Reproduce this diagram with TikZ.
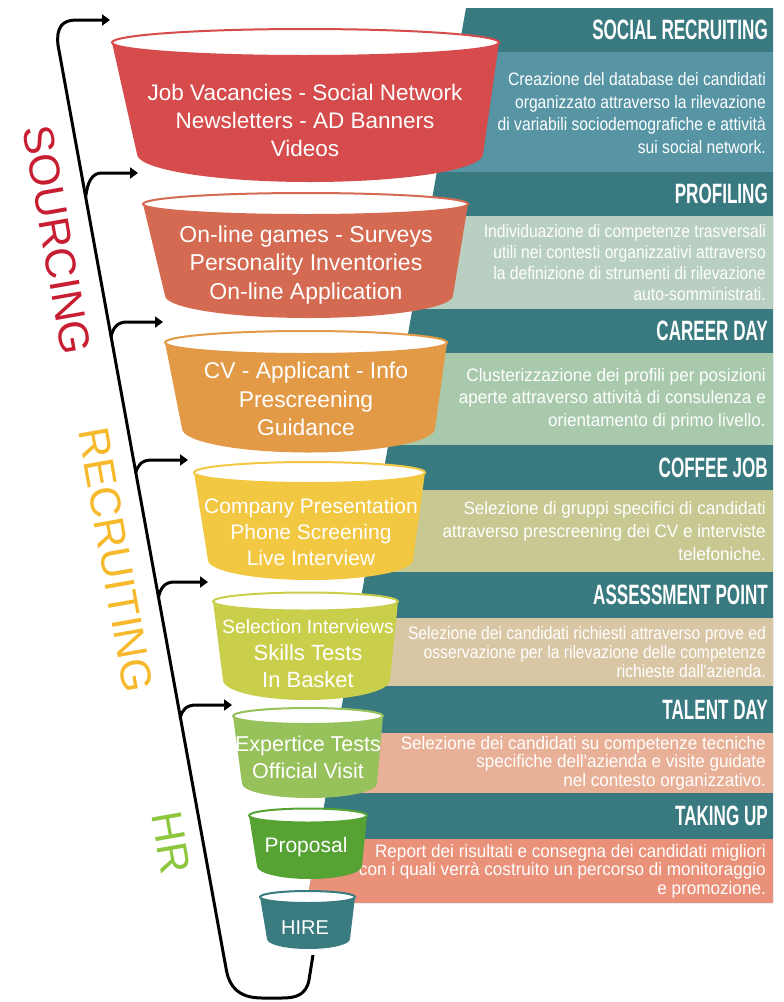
\documentclass[tikz,border=0pt]{standalone}
\usepackage{fontspec}
\setmainfont{Liberation Sans}
\newfontfamily\headfont[FakeStretch=0.61]{Liberation Sans}
\newfontfamily\descfont[FakeStretch=0.87]{Liberation Sans}
\newfontfamily\descwide[FakeStretch=0.95]{Liberation Sans}
\usepackage{tikz}
\usetikzlibrary{arrows.meta}

\definecolor{panelteal}{HTML}{387A80}
\definecolor{dsocial}{HTML}{5795A5}
\definecolor{dprofiling}{HTML}{B9CFC1}
\definecolor{dcareer}{HTML}{A8C9AB}
\definecolor{dcoffee}{HTML}{C8C893}
\definecolor{dassess}{HTML}{D9C6A5}
\definecolor{dtalent}{HTML}{E8B096}
\definecolor{dtaking}{HTML}{EA917A}
\definecolor{fjob}{HTML}{D64B4B}
\definecolor{fonline}{HTML}{D46A52}
\definecolor{fcv}{HTML}{E39A47}
\definecolor{fcompany}{HTML}{F2C742}
\definecolor{fselection}{HTML}{C9CF4A}
\definecolor{fexpertice}{HTML}{97C15A}
\definecolor{fproposal}{HTML}{56A334}
\definecolor{fhire}{HTML}{3A7B80}
\definecolor{csourcing}{HTML}{C81E32}
\definecolor{crecruit}{HTML}{F6B92C}
\definecolor{chr}{HTML}{8DC63F}

\tikzset{
  funneltext/.style={text=white, align=center, inner sep=0pt},
  header/.style={text=white, anchor=east, inner sep=0pt, font=\headfont\bfseries\fontsize{28}{30}\selectfont},
  desc/.style={text=white, anchor=east, align=right, inner sep=0pt, font=\descfont\fontsize{18}{22.5}\selectfont},
  descw/.style={desc, font=\descwide\fontsize{18}{18.5}\selectfont},
  stage/.style={rotate=-80, inner sep=0pt, font=\fontsize{43}{45}\selectfont},
  bracket/.style={line width=3pt, black},
  tip/.style={-{Triangle[length=8pt,width=11pt]}}
}

\begin{document}
\begin{tikzpicture}[x=1pt,y=1pt]
  \useasboundingbox (0,0) rectangle (784,-1002);

  % right panel
  \fill[panelteal] (466,-8) -- (773,-8) -- (773,-903) -- (306.7,-903) -- cycle;
  \begin{scope}
    \clip (466,-8) -- (773,-8) -- (773,-903) -- (306.7,-903) -- cycle;
    \foreach \ya/\yb/\col in {52/172/dsocial, 216/309/dprofiling, 353/445/dcareer,
      490/572/dcoffee, 618/686/dassess, 733/793/dtalent, 839/903/dtaking}
      \fill[\col] (300,-\ya) rectangle (773,-\yb);
  \end{scope}

  \node[header] (hsocial) at (768,-30) {SOCIAL RECRUITING};
  \node[header] (hprofiling) at (768,-194) {PROFILING};
  \node[header] (hcareer) at (768,-331) {CAREER DAY};
  \node[header] (hcoffee) at (768,-467.5) {COFFEE JOB};
  \node[header] (hassess) at (768,-595) {ASSESSMENT POINT};
  \node[header] (htalent) at (768,-709.5) {TALENT DAY};
  \node[header] (htaking) at (768,-816) {TAKING UP};

  \node[desc] (dsocial) at (766,-113) {Creazione del database dei candidati\\organizzato attraverso la rilevazione\\di variabili sociodemografiche e attività\\sui social network.};
  \node[desc, font=\descfont\fontsize{18}{21}\selectfont] (dprofiling) at (766,-262.5) {Individuazione di competenze trasversali\\utili nei contesti organizzativi attraverso\\la definizione di strumenti di rilevazione\\auto-somministrati.};
  \node[desc, font=\descwide\fontsize{18}{22.5}\selectfont] (dcareer) at (766,-399) {Clusterizzazione dei profili per posizioni\\aperte attraverso attività di consulenza e\\orientamento di primo livello.};
  \node[desc, font=\descwide\fontsize{18}{23}\selectfont] (dcoffee) at (766,-531) {Selezione di gruppi specifici di candidati\\attraverso prescreening dei CV e interviste\\telefoniche.};
  \node[desc, font=\descfont\fontsize{18}{19}\selectfont] (dassess) at (766,-652) {Selezione dei candidati richiesti attraverso prove ed\\osservazione per la rilevazione delle competenze\\richieste dall'azienda.};
  \node[descw] (dtalent) at (766,-763) {Selezione dei candidati su competenze tecniche\\specifiche dell'azienda e visite guidate\\nel contesto organizzativo.};
  \node[descw] (dtaking) at (766,-871) {Report dei risultati e consegna dei candidati migliori\\con i quali verrà costruito un percorso di monitoraggio\\e promozione.};

  % funnels
  \foreach \col/\cx/\ty/\trx/\ry/\bcx/\by/\brx/\dip in {
    fjob/305.5/42.5/193.5/13.5/310/154/173/28,
    fonline/305.5/204/162.5/11/309/295.5/144/22.5,
    fcv/306/342.5/141/11.5/308.5/428.5/126.5/24,
    fcompany/309.5/472.5/115.5/10.5/310.5/560/102.5/20,
    fselection/305.5/601.5/92.5/9/306.5/680/83.5/20,
    fexpertice/308/716/75/8/309.5/783.5/67.5/14.5,
    fproposal/308/815.5/59/7/309.5/866/52.5/13,
    fhire/307.5/897/47.5/6/308.5/939/41.5/10}
  {
    \fill[\col] (\cx-\trx,-\ty) -- (\bcx-\brx,-\by)
      arc[start angle=180, end angle=360, x radius=\brx, y radius=\dip]
      -- (\cx+\trx,-\ty) -- cycle;
    \draw[\col, line width=2pt, fill=white] (\cx,-\ty) ellipse[x radius=\trx, y radius=\ry];
  }

  \node[funneltext, font=\fontsize{22.5}{28}\selectfont] (job) at (305,-120) {Job Vacancies - Social Network\\Newsletters - AD Banners\\Videos};
  \node[funneltext, font=\fontsize{23}{28.5}\selectfont] (online) at (306,-265) {On-line games - Surveys\\Personality Inventories\\On-line Application};
  \node[funneltext, font=\fontsize{22.8}{28.5}\selectfont] (cv) at (306,-399) {CV - Applicant - Info\\Prescreening\\Guidance};
  \node[funneltext, font=\fontsize{21}{26}\selectfont] (company) at (311,-531.5) {Company Presentation\\Phone Screening\\Live Interview};
  \node[funneltext, font=\fontsize{22}{27}\selectfont] (selection) at (308,-654) {{\fontsize{19.3}{27}\selectfont Selection Interviews}\\Skills Tests\\In Basket};
  \node[funneltext, font=\fontsize{21.5}{27}\selectfont] (expertice) at (308,-757) {Expertice Tests\\Official Visit};
  \node[funneltext, font=\fontsize{21}{26}\selectfont] (proposal) at (306,-847) {Proposal};
  \node[funneltext, font=\fontsize{20}{24}\selectfont] (hire) at (305,-928) {HIRE};

  % bracket
  \coordinate (topend) at (110,-20);
  \coordinate (hireend) at (313,-955);
  \draw[bracket, tip] (hireend) -- (309,-980) .. controls (306,-995) and (296,-998) .. (282,-998)
    -- (262,-998) .. controls (240,-998) and (229,-988) .. (226,-968)
    -- (58,-45) .. controls (56,-28) and (62,-20) .. (76,-20) -- (topend);

  \foreach \sy/\hy/\tx [count=\i] in {197/173/138, 337/322/163, 473/460/188, 598/582/208, 718/705/232}
  {
    \pgfmathsetmacro{\sx}{58+0.1814*(\sy-45)}
    \coordinate (s\i) at (\sx,-\sy);
    \coordinate (h\i) at (\sx+16,-\hy);
    \coordinate (t\i) at (\tx,-\hy);
    \draw[bracket, tip] (s\i) .. controls +(2,{0.6*(\sy-\hy)}) and +(-10,0) .. (h\i) -- (t\i);
  }

  \node[stage, text=csourcing] (sourcing) at (57,-240) {SOURCING};
  \node[stage, text=crecruit] (recruiting) at (116,-560) {RECRUITING};
  \node[stage, text=chr] (hr) at (171,-843) {HR};
\end{tikzpicture}
\end{document}
